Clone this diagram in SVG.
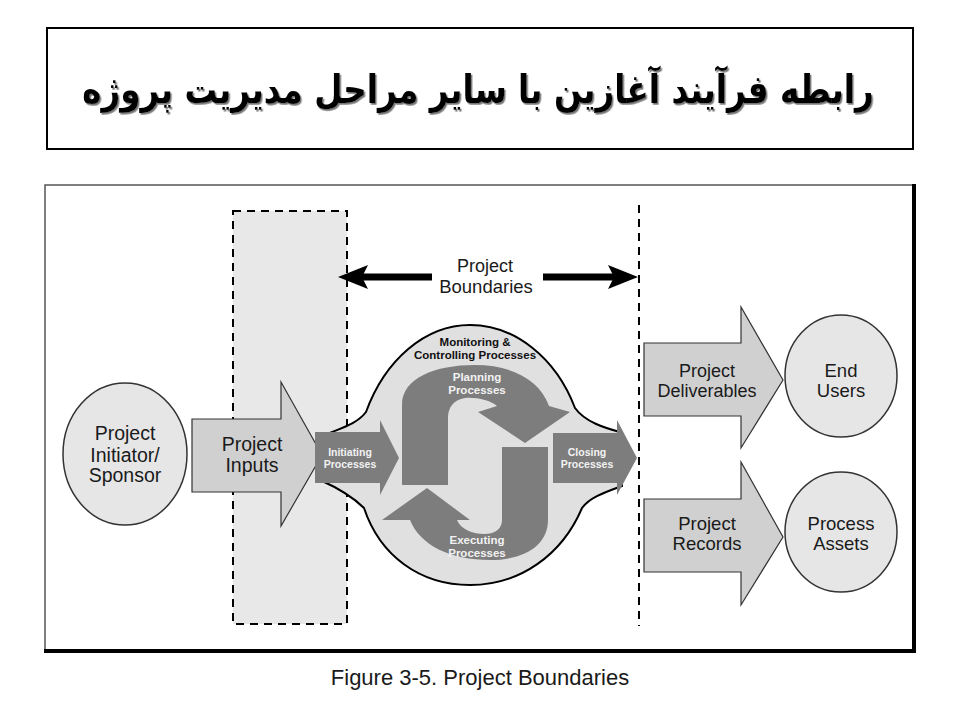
<svg xmlns="http://www.w3.org/2000/svg" width="960" height="720" viewBox="0 0 960 720">
<style>
.lbl{font-family:"Liberation Sans",Arial,sans-serif;fill:#1a1a1a;text-anchor:middle}
.wt{font-family:"Liberation Sans",Arial,sans-serif;fill:#f2f2f2;font-weight:bold;text-anchor:middle}
.bt{font-family:"Liberation Sans",Arial,sans-serif;fill:#111;font-weight:bold;text-anchor:middle}
.circ{fill:#e6e6e6;stroke:#333;stroke-width:1.5}
.blk{fill:#d0d0d0;stroke:#333;stroke-width:1.2}
.drk{fill:#7d7d7d}
.title{font-family:"DejaVu Sans","Noto Sans",sans-serif;font-weight:bold;text-anchor:middle}
</style>
<defs>
<marker id="bh" viewBox="0 0 30 24" refX="10" refY="12" markerWidth="30" markerHeight="24" orient="auto" markerUnits="userSpaceOnUse">
<path d="M0,0 L30,12 L0,24 L6,12 Z" fill="#000"/>
</marker>
<filter id="shadow" x="-5%" y="-20%" width="110%" height="140%">
<feDropShadow dx="1.5" dy="1.5" stdDeviation="0.3" flood-color="#777" flood-opacity="1"/>
</filter>
</defs>
<rect width="960" height="720" fill="#fff"/>
<g id="title">
<rect x="47" y="28" width="866" height="121" fill="#fff" stroke="#000" stroke-width="2"/>
<text class="title" transform="translate(478,103) scale(0.96,1.15)" x="0" y="0" font-size="34" fill="#000" direction="rtl" filter="url(#shadow)">رابطه فرآیند آغازین با سایر مراحل مدیریت پروژه</text>
</g>
<g id="frame">
<rect x="45" y="185" width="869" height="465" fill="#fff" stroke="#555" stroke-width="1.5"/>
<line x1="914" y1="184" x2="914" y2="652" stroke="#000" stroke-width="4"/>
<line x1="44" y1="651" x2="916" y2="651" stroke="#000" stroke-width="4"/>
</g>
<g id="boundary-zone">
<rect x="233" y="211" width="114" height="413" fill="#e8e8e8" stroke="#000" stroke-width="2" stroke-dasharray="8,6"/>
<line x1="639" y1="205" x2="639" y2="626" stroke="#000" stroke-width="2" stroke-dasharray="8,6"/>
</g>
<g id="connectors">
<path d="M432,277 L358,277" stroke="#000" stroke-width="7" fill="none" marker-end="url(#bh)"/>
<path d="M543,277 L618,277" stroke="#000" stroke-width="7" fill="none" marker-end="url(#bh)"/>
<text class="lbl" x="485" y="272" font-size="18">Project</text>
<text class="lbl" x="486" y="293" font-size="18.5">Boundaries</text>
</g>
<g id="sponsor">
<ellipse class="circ" cx="125" cy="454" rx="62" ry="71"/>
<text class="lbl" x="125" y="440" font-size="19.5">Project</text>
<text class="lbl" x="125" y="462" font-size="19.5">Initiator/</text>
<text class="lbl" x="125" y="482" font-size="19.5">Sponsor</text>
</g>
<g id="project-inputs">
<path class="blk" d="M192,419 L281,419 L281,382 L322,455 L281,526 L281,492 L192,492 Z"/>
<text class="lbl" x="252" y="451" font-size="19.5">Project</text>
<text class="lbl" x="252" y="472" font-size="19.5">Inputs</text>
</g>
<g id="process-group">
<path d="M320,437 C340,428 356,425 366,412 C385,360 425,325 470,325 C515,325 556,358 575,408 C585,422 605,428 620,432 L622,486 C606,492 590,497 582,508 C562,555 520,585 470,585 C420,585 380,556 364,508 C352,496 338,488 320,480 Z" fill="#e0e0e0" stroke="#000" stroke-width="2"/>
<text class="bt" x="475" y="346" font-size="11.5">Monitoring &amp;</text>
<text class="bt" x="475" y="359" font-size="11.5">Controlling Processes</text>
</g>
<g id="planning">
<path class="drk" d="M402,485 L402,405 C402,378 435,365 475,365 C512,365 540,380 549,406 L570,412 L525,443 L478,412 L497,406 C490,400 476,397 465,398 C453,400 448,408 448,418 L448,485 Z"/>
<text class="wt" x="477" y="381" font-size="11.5">Planning</text>
<text class="wt" x="477" y="394" font-size="11.5">Processes</text>
</g>
<g id="executing">
<path class="drk" d="M502,447 L548,447 L548,520 C548,545 525,560 490,560 C450,560 420,545 410,520 L382,520 L427,488 L470,520 L457,520 C461,530 474,534 484,534 C496,534 502,528 502,520 Z"/>
<text class="wt" x="477" y="544" font-size="11.5">Executing</text>
<text class="wt" x="477" y="557" font-size="11.5">Processes</text>
</g>
<g id="initiating">
<path class="drk" d="M315,432 L380,432 L380,420 L399,458 L380,495 L380,483 L315,483 Z"/>
<text class="wt" x="350" y="456" font-size="10.5">Initiating</text>
<text class="wt" x="350" y="468" font-size="10.5">Processes</text>
</g>
<g id="closing">
<path class="drk" d="M553,433 L617,433 L617,420 L637,458 L617,495 L617,483 L553,483 Z"/>
<text class="wt" x="587" y="456" font-size="10.5">Closing</text>
<text class="wt" x="587" y="468" font-size="10.5">Processes</text>
</g>
<g id="deliverables">
<path class="blk" d="M644,343 L741,343 L741,307 L783,380 L741,448 L741,416 L644,416 Z"/>
<text class="lbl" x="707" y="377" font-size="18">Project</text>
<text class="lbl" x="707" y="397" font-size="18">Deliverables</text>
</g>
<g id="end-users">
<ellipse class="circ" cx="841" cy="376" rx="56" ry="61"/>
<text class="lbl" x="841" y="377" font-size="18.5">End</text>
<text class="lbl" x="841" y="397" font-size="18.5">Users</text>
</g>
<g id="records">
<path class="blk" d="M644,499 L741,499 L741,462 L783,537 L741,605 L741,572 L644,572 Z"/>
<text class="lbl" x="707" y="530" font-size="18.5">Project</text>
<text class="lbl" x="707" y="550" font-size="18.5">Records</text>
</g>
<g id="process-assets">
<ellipse class="circ" cx="841" cy="532" rx="56" ry="60"/>
<text class="lbl" x="841" y="530" font-size="18.5">Process</text>
<text class="lbl" x="841" y="550" font-size="18.5">Assets</text>
</g>
<g id="caption">
<text class="lbl" x="480" y="685" font-size="22" fill="#111">Figure 3-5. Project Boundaries</text>
</g>
</svg>
